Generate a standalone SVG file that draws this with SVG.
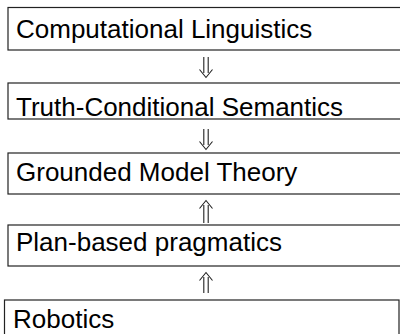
<svg xmlns="http://www.w3.org/2000/svg" width="400" height="334" viewBox="0 0 400 334">
<style>
.box{fill:#fff;stroke:#222;stroke-width:1.2}
.lbl{font-family:"Liberation Sans",Arial,sans-serif;font-size:26px;fill:#000}
.arr{fill:none;stroke:#222;stroke-width:1.1}
</style>
<rect width="400" height="334" fill="#fff"/>
<g id="n1"><rect class="box" x="8" y="7.5" width="400" height="42.5"/><text class="lbl" x="16" y="38">Computational Linguistics</text></g>
<g id="n2"><rect class="box" x="8" y="83" width="400" height="36"/><text class="lbl" x="16" y="116">Truth-Conditional Semantics</text></g>
<g id="n3"><rect class="box" x="8" y="153" width="400" height="41"/><text class="lbl" x="16" y="181">Grounded Model Theory</text></g>
<g id="n4"><rect class="box" x="8" y="225" width="400" height="41"/><text class="lbl" x="16" y="251">Plan-based pragmatics</text></g>
<g id="n5"><rect class="box" x="4.5" y="300" width="394.5" height="45"/><text class="lbl" x="13" y="328">Robotics</text></g>
<g id="connectors">
<path class="arr" d="M203.8 57V73M208.2 57V73M199.5 69.5L206 77.5L212.5 69.5"/>
<path class="arr" d="M203.8 129V145M208.2 129V145M199.5 141.5L206 149.5L212.5 141.5"/>
<path class="arr" d="M203.8 223V205M208.2 223V205M199.5 208.5L206 200.5L212.5 208.5"/>
<path class="arr" d="M203.8 293V277M208.2 293V277M199.5 280.5L206 272.5L212.5 280.5"/>
</g>
</svg>
